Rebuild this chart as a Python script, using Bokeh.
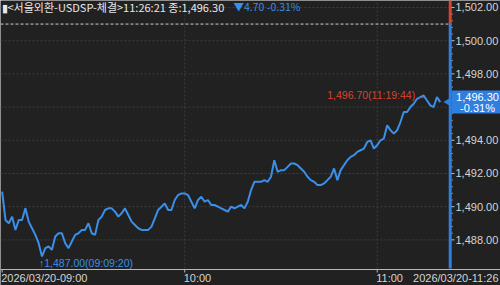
import numpy as np
from bokeh.plotting import figure
from bokeh.models import Range1d, Label
from bokeh.embed import file_html
from bokeh.resources import INLINE
from bokeh.core.properties import value

# ---- data (tick-indexed series) ----
prices = [
    1490.9, 1489.2, 1489.0, 1489.4, 1488.6, 1489.2, 1489.2, 1489.9, 1489.1, 1488.7,
    1488.3, 1487.8, 1487.0, 1487.5, 1487.6, 1487.4, 1488.2, 1488.4, 1488.4, 1487.8,
    1487.5, 1487.9, 1488.3, 1488.4, 1488.6, 1488.6, 1489.0, 1488.4, 1488.3, 1489.2,
    1489.4, 1489.8, 1489.9, 1489.9, 1489.7, 1489.4, 1489.6, 1489.9, 1489.5, 1489.1,
    1488.9, 1488.7, 1488.6, 1488.6, 1488.6, 1488.8, 1489.3, 1489.8, 1490.0, 1490.2,
    1489.8, 1489.8, 1490.4, 1490.7, 1490.8, 1490.8, 1490.7, 1490.3, 1489.9, 1490.4,
    1490.6, 1490.3, 1490.4, 1490.1, 1490.1, 1490.0, 1489.9, 1489.8, 1489.7, 1490.0,
    1489.9, 1490.0, 1490.1, 1489.9, 1490.3, 1491.0, 1491.5, 1491.5, 1491.5, 1491.6,
    1491.5, 1491.8, 1492.8, 1492.1, 1492.2, 1492.2, 1492.4, 1492.6, 1492.6, 1492.5,
    1492.3, 1492.1, 1491.8, 1491.6, 1491.5, 1491.3, 1491.3, 1491.4, 1491.6, 1491.8,
    1492.3, 1491.6, 1492.2, 1492.5, 1492.8, 1493.0, 1493.1, 1493.3, 1493.4, 1493.5,
    1493.9, 1494.0, 1493.5, 1493.7, 1494.0, 1494.1, 1494.9, 1494.6, 1494.4, 1494.6,
    1495.1, 1495.7, 1495.7, 1496.0, 1496.2, 1496.5, 1496.6, 1496.7, 1496.4, 1496.1,
    1496.0, 1496.6, 1496.3,
]
tick_index = [0, 55, 113]
tick_labels = ["2026/03/20-09:00", "10:00", "11:00"]
last_label = "2026/03/20-11:26"
y_ticks = [1488, 1490, 1492, 1494, 1496, 1498, 1500, 1502]
last_price = 1496.30
prev_close = 1501.00
change_pct = "-0.31%"
max_time = "11:19:44"
min_time = "09:09:20"
title_text = "▮<서울외환-USDSP-체결>11:26:21 종:1,496.30"
change_text = "▼4.70 -0.31%"

# ---- style / layout ----
BG = "#212121"
BLUE = "#3a8fe8"
AXBLUE = "#2f7fe0"
RED = "#d9432f"
GRID = "#3d3d3d"
TXT = "#d4d4d4"
NUMFONT = "Liberation Sans"
W, H = 500, 285
S = 3.319            # px per tick index
PPU = 16.6           # px per won
Y_TOP = 1502.42      # value at the top edge
PLOT_BOTTOM_PX = 268


def xpx(px):
    return px / S - 0.5


def ypx(py):
    return Y_TOP - py / PPU


x = list(range(len(prices)))
x_now = len(prices) + 2
y_bot = ypx(PLOT_BOTTOM_PX)

p = figure(width=W, height=H, output_backend="svg", toolbar_location=None,
           x_range=Range1d(xpx(0), xpx(W)), y_range=Range1d(ypx(H), Y_TOP),
           x_axis_location=None, y_axis_location=None,
           min_border=0, background_fill_color=BG, border_fill_color=BG,
           outline_line_color=None)
p.xgrid.visible = False
p.ygrid.visible = False

# grid
p.segment(x0=[xpx(0)] * len(y_ticks), y0=y_ticks, x1=[x_now] * len(y_ticks), y1=y_ticks,
          line_color=GRID, line_dash="2 2", line_width=1)
p.segment(x0=tick_index[1:], y0=[y_bot] * 2, x1=tick_index[1:], y1=[Y_TOP] * 2,
          line_color=GRID, line_dash="2 2", line_width=1)

# previous close line
p.segment(x0=[xpx(0)], y0=[prev_close], x1=[x_now], y1=[prev_close],
          line_color="#cfcfcf", line_dash="3 2", line_width=1)

# price line
p.line(x, prices, line_color=BLUE, line_width=2)

# price axis line: red above previous close, blue below
p.segment(x0=[x_now], y0=[prev_close], x1=[x_now], y1=[Y_TOP], line_color=RED, line_width=3)
p.segment(x0=[x_now], y0=[y_bot], x1=[x_now], y1=[prev_close], line_color=AXBLUE, line_width=3)

# y ticks and labels
minor = [round(y_ticks[0] + 0.4 * k, 2) for k in range(int((y_ticks[-1] - y_ticks[0]) / 0.4) + 1)]
minor = [m for m in minor if all(abs(m - t) > 1e-6 for t in y_ticks)]
p.segment(x0=[xpx(451)] * len(y_ticks), y0=y_ticks, x1=[xpx(454)] * len(y_ticks), y1=y_ticks,
          line_color="#bbbbbb", line_width=1)
p.segment(x0=[xpx(451)] * len(minor), y0=minor, x1=[xpx(452.5)] * len(minor), y1=minor,
          line_color="#8a8a8a", line_width=1)
p.text(x=[xpx(455)] * len(y_ticks), y=y_ticks, text=[f"{t:,.2f}" for t in y_ticks],
       text_align="left", text_baseline="middle", text_color=TXT,
       text_font_size="11px", text_font=value(NUMFONT))

# x axis line, ticks, labels
p.segment(x0=[xpx(0)], y0=[ypx(269)], x1=[xpx(W)], y1=[ypx(269)], line_color="#b8b8b8", line_width=1)
p.segment(x0=tick_index, y0=[ypx(269)] * 3, x1=tick_index, y1=[ypx(272)] * 3,
          line_color="#b8b8b8", line_width=1)
p.text(x=tick_index, y=[ypx(277.5)] * 3, text=tick_labels, text_align="left",
       text_baseline="middle", text_color=TXT, text_font_size="11px",
       text_font=value(NUMFONT), x_offset=-1)
p.text(x=[xpx(498)], y=[ypx(277.5)], text=[last_label], text_align="right",
       text_baseline="middle", text_color=TXT, text_font_size="11px",
       text_font=value(NUMFONT))

# max / min annotations
imax = int(np.argmax(prices))
imin = int(np.argmin(prices))
p.text(x=[imax], y=[prices[imax]], text=[f"{prices[imax]:,.2f}({max_time})→"],
       text_align="right", text_baseline="middle", text_color=RED,
       text_font_size="10.5px", text_font=value(NUMFONT), x_offset=2)
p.text(x=[imin], y=[prices[imin]], text=[f"↑{prices[imin]:,.2f}({min_time})"],
       text_align="left", text_baseline="top", text_color=BLUE,
       text_font_size="10.5px", text_font=value(NUMFONT), x_offset=-3, y_offset=1)

# current price tag
p.rect(x=[xpx(475.5)], y=[last_price], width=49 / S, height=23 / PPU,
       fill_color=AXBLUE, line_color=None)
p.scatter(x=[xpx(448)], y=[last_price], marker="triangle", angle=np.pi / 2, size=9,
          fill_color=AXBLUE, line_color=None)
p.text(x=[xpx(477)] * 2, y=[last_price] * 2, text=[f"{last_price:,.2f}", change_pct],
       y_offset=[-5, 6], text_align="center", text_baseline="middle", text_color="white",
       text_font_size="11px", text_font=value(NUMFONT))

# title
p.add_layout(Label(x=1, y=H - 6, x_units="screen", y_units="screen", text=title_text,
                   text_color="#e8e8e8", text_font_size="11px", text_baseline="middle",
                   text_font="Noto Sans CJK KR"))
p.add_layout(Label(x=233, y=H - 6, x_units="screen", y_units="screen", text=change_text,
                   text_color=BLUE, text_font_size="10.5px", text_baseline="middle",
                   text_font="Noto Sans CJK KR"))

open("out.html", "w").write(file_html(p, INLINE))
